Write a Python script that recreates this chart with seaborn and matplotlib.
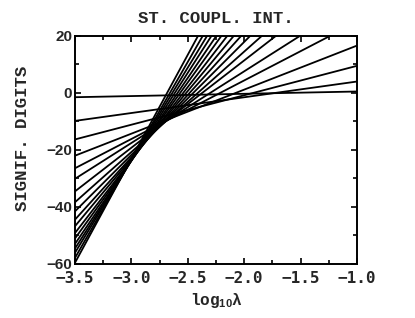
import numpy as np
import pandas as pd
import matplotlib
matplotlib.use("Agg")
import matplotlib.pyplot as plt
import seaborn as sns
from matplotlib.ticker import MultipleLocator

# -------------------------------
# data
# each straight line is given by its value at both ends of the x range
# -------------------------------
log_lambda_ends = [-3.5, -1.0]
digits_at_left = [-1.5, -9.8, -16.3, -22.0, -26.4, -30.1, -34.5, -38.3, -41.5,
                  -44.4, -46.7, -49.1, -51.0, -52.9, -54.5, -56.0, -57.8, -59.5]
digits_at_right = [0.5, 4.0, 9.5, 16.6, 24.9, 32.7, 42.0, 49.7, 57.5,
                   64.9, 71.8, 78.9, 85.8, 92.6, 99.5, 106.3, 114.0, 122.8]

x_ticks = [-3.5, -3.0, -2.5, -2.0, -1.5, -1.0]
y_ticks = [-60, -40, -20, 0, 20]

rows = []
for i, (a, b) in enumerate(zip(digits_at_left, digits_at_right)):
    rows.append({"line": i, "loglam": log_lambda_ends[0], "digits": a})
    rows.append({"line": i, "loglam": log_lambda_ends[1], "digits": b})
df = pd.DataFrame(rows)

# -------------------------------
# style
# -------------------------------
sns.set_style("ticks")
plt.rcParams["mathtext.fontset"] = "custom"
plt.rcParams["mathtext.rm"] = "Liberation Sans:bold"
plt.rcParams["mathtext.it"] = "Liberation Sans:bold"
plt.rcParams["mathtext.bf"] = "Liberation Sans:bold"

mono = ["Liberation Mono", "DejaVu Sans Mono"]

fig = plt.figure(figsize=(4.15, 3.18), dpi=100)
ax = fig.add_axes([0.181, 0.170, 0.679, 0.717])

sns.lineplot(data=df, x="loglam", y="digits", units="line", estimator=None,
             color="black", linewidth=1.3, ax=ax, legend=False)

ax.set_xlim(-3.5, -1.0)
ax.set_ylim(-60, 20)
ax.set_xticks(x_ticks)
ax.set_yticks(y_ticks)
ax.xaxis.set_minor_locator(MultipleLocator(0.25))
ax.yaxis.set_minor_locator(MultipleLocator(10))
ax.set_xticklabels([f"{v:.1f}".replace("-", "\u2212") for v in x_ticks],
                   family="DejaVu Sans Mono", weight="bold", fontsize=11.5)
ax.set_yticklabels([str(v).replace("-", "\u2212") for v in y_ticks],
                   family="Liberation Sans", weight="bold", fontsize=11)

ax.tick_params(which="both", direction="in", top=True, right=True,
               width=1.2, color="black")
ax.tick_params(axis="x", pad=5)
ax.tick_params(axis="y", pad=2)
ax.tick_params(which="major", length=4)
ax.tick_params(which="minor", length=3)
for s in ax.spines.values():
    s.set_linewidth(1.4)
    s.set_color("black")

ax.set_title("ST. COUPL. INT.", family=mono, weight="bold", fontsize=12.5, pad=9)
ax.set_ylabel("SIGNIF. DIGITS", family=mono, weight="bold", fontsize=12.5)
ax.yaxis.set_label_coords(-0.16, 0.55)
ax.set_xlabel("log$_{10}$\u03bb", family=mono, weight="bold", fontsize=11.5, labelpad=4)

fig.savefig("out.png", dpi=100)
